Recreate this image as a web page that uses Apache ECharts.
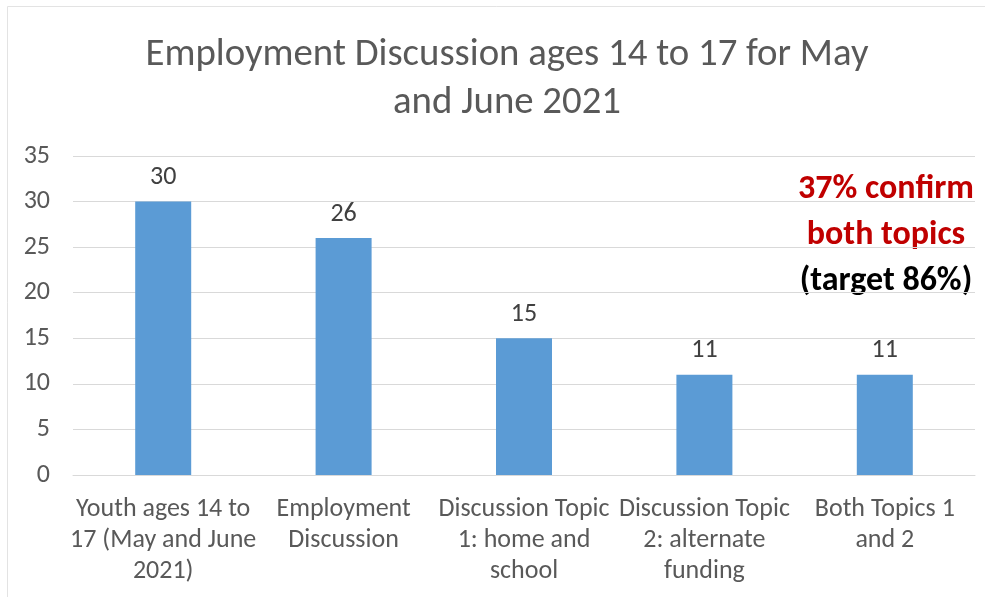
<!DOCTYPE html>
<html><head><meta charset="utf-8">
<script src="https://cdn.jsdelivr.net/npm/echarts@6/dist/echarts.min.js"></script>
<style>html,body{margin:0;padding:0;background:#fff}#c{width:985px;height:597px}</style>
</head><body><div id="c"></div>
<script>
const titleText = "Employment Discussion ages 14 to 17 for May\nand June 2021";
const categories = [
  "Youth ages 14 to\n17 (May and June\n2021)",
  "Employment\nDiscussion",
  "Discussion Topic\n1: home and\nschool",
  "Discussion Topic\n2: alternate\nfunding",
  "Both Topics 1\nand 2"
];
const values = [30, 26, 15, 11, 11];
const yTicks = {min: 0, max: 35, interval: 5};
const noteLines = ["37% confirm", "both topics", "(target 86%)"];

const FONT = 'Carlito, Calibri, "Open Sans", sans-serif';
const chart = echarts.init(document.getElementById('c'), null, {renderer: 'canvas'});
chart.setOption({
  animation: false,
  backgroundColor: '#fff',
  title: {
    text: titleText, left: 502, textAlign: 'center', top: 26,
    textStyle: {fontFamily: FONT, fontSize: 38.8, fontWeight: 'normal', color: '#595959', lineHeight: 48}
  },
  grid: {left: 73, right: 10, top: 156, bottom: 122, containLabel: false},
  xAxis: {
    type: 'category', data: categories,
    axisLine: {lineStyle: {color: '#d9d9d9', width: 1}},
    axisTick: {show: false},
    axisLabel: {fontFamily: FONT, fontSize: 26, color: '#595959', lineHeight: 31, margin: 19, interval: 0}
  },
  yAxis: {
    type: 'value', min: yTicks.min, max: yTicks.max, interval: yTicks.interval,
    axisLine: {show: false}, axisTick: {show: false},
    splitLine: {lineStyle: {color: '#d9d9d9', width: 1}},
    axisLabel: {fontFamily: FONT, fontSize: 26, color: '#595959', margin: 23}
  },
  series: [{
    type: 'bar', data: values, barWidth: 56,
    itemStyle: {color: '#5B9BD5'},
    label: {show: true, position: 'top', distance: 11, fontFamily: FONT, fontSize: 26, color: '#404040'}
  }],
  graphic: [
    {type: 'rect', shape: {x: 7.5, y: 6.5, width: 1000, height: 620}, style: {fill: 'none', stroke: '#e3e3e3', lineWidth: 1}, silent: true},
    {type: 'text', x: 886, y: 189, style: {text: noteLines[0], fontFamily: FONT, fontSize: 34, fontWeight: 'bold', fill: '#C00000', align: 'center', verticalAlign: 'middle'}},
    {type: 'text', x: 886, y: 235, style: {text: noteLines[1], fontFamily: FONT, fontSize: 34, fontWeight: 'bold', fill: '#C00000', align: 'center', verticalAlign: 'middle'}},
    {type: 'text', x: 886, y: 281, style: {text: noteLines[2], fontFamily: FONT, fontSize: 34, fontWeight: 'bold', fill: '#000000', align: 'center', verticalAlign: 'middle'}}
  ]
});
</script></body></html>
